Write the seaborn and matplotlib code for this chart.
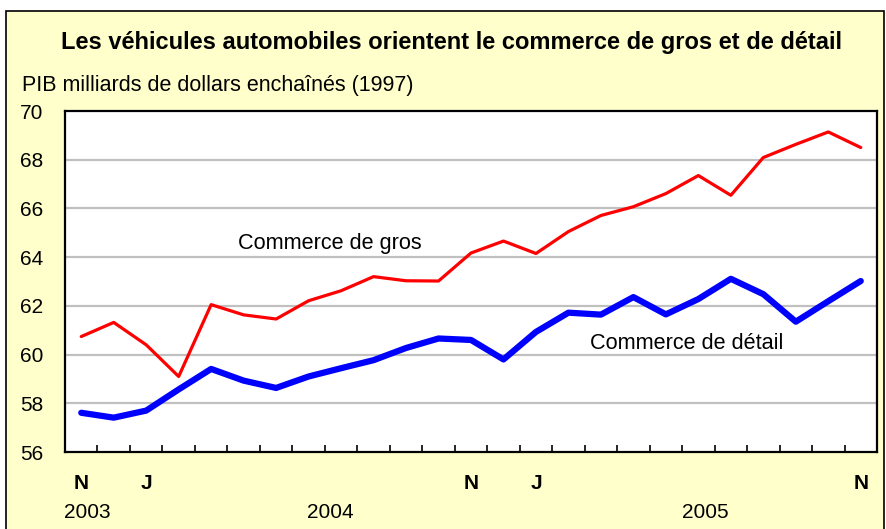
import matplotlib
matplotlib.use("Agg")
import matplotlib.pyplot as plt
import matplotlib.patches as mpatches
import matplotlib.transforms as mtransforms
import seaborn as sns
import pandas as pd
import numpy as np

months = ["N", "D", "J", "F", "M", "A", "M", "J", "J", "A", "S", "O",
          "N", "D", "J", "F", "M", "A", "M", "J", "J", "A", "S", "O", "N"]
gros = [60.74, 61.32, 60.40, 59.10, 62.05, 61.63, 61.46, 62.21, 62.62, 63.20, 63.03, 63.02,
        64.17, 64.66, 64.15, 65.05, 65.71, 66.07, 66.61, 67.35, 66.54, 68.09, 68.63, 69.14, 68.50]
detail = [57.61, 57.41, 57.70, 58.57, 59.41, 58.93, 58.63, 59.10, 59.44, 59.77, 60.27, 60.66,
          60.60, 59.80, 60.93, 61.72, 61.64, 62.36, 61.65, 62.28, 63.11, 62.48, 61.35, 62.19, 63.02]
shown_ticks = {0: "N", 2: "J", 12: "N", 14: "J", 24: "N"}
years = [("2003", 0.2), ("2004", 7.66), ("2005", 19.2)]
yticks = [56, 58, 60, 62, 64, 66, 68, 70]

sns.set_style("white")
plt.rcParams['font.family'] = ['Liberation Sans', 'DejaVu Sans']
plt.rcParams['text.color'] = 'black'
plt.rcParams['ytick.color'] = 'black'
plt.rcParams['xtick.color'] = 'black'

idx = np.arange(len(months))
df = pd.DataFrame({"idx": np.concatenate([idx, idx]),
                   "val": gros + detail,
                   "serie": ["Commerce de gros"] * len(idx) + ["Commerce de détail"] * len(idx)})

fig = plt.figure(figsize=(8.86, 5.29), dpi=100)
fig.patch.set_facecolor("white")
bg = mpatches.Rectangle((6/886, -0.01), (884-6)/886, 0.979 + 0.01, transform=fig.transFigure,
                        facecolor="#FFFFCC", edgecolor="black", linewidth=1.2, zorder=-10)
fig.patches.append(bg)

ax = fig.add_axes([65/886, 1-452/529, (877-65)/886, (452-111)/529])
ax.set_zorder(1)
ax.set_facecolor("white")

for y in yticks[1:-1]:
    ax.axhline(y, color="#C0C0C0", lw=1.6, zorder=1)

sns.lineplot(data=df[df.serie == "Commerce de gros"], x="idx", y="val", color="#FF0000",
             lw=2.3, ax=ax, zorder=3, legend=False)
sns.lineplot(data=df[df.serie == "Commerce de détail"], x="idx", y="val", color="#0000FF",
             lw=4.5, ax=ax, zorder=4, legend=False)

ax.set_xlim(-0.5, len(months) - 0.5)
ax.set_ylim(56, 70)
ax.set_yticks(yticks)
ax.set_yticklabels([str(v) for v in yticks], fontsize=15)
ax.tick_params(axis="y", length=0, pad=15.5)
ax.set_xticks(np.arange(0.5, len(months) - 1, 1.0))
ax.set_xticklabels([])
ax.tick_params(axis="x", direction="in", length=5, width=1.2, color="black", bottom=True)
ax.set_xlabel("")
ax.set_ylabel("")
for s in ax.spines.values():
    s.set_color("black")
    s.set_linewidth(1.6)
    s.set_visible(True)

trans = mtransforms.blended_transform_factory(ax.transData, ax.transAxes)
for i, lab in shown_ticks.items():
    ax.text(i, -0.091, lab, transform=trans, ha="center", va="center", fontsize=15,
            fontweight="bold")
for lab, x in years:
    ax.text(x, -0.177, lab, transform=trans, ha="center", va="center", fontsize=15)

ax.text(4.83, 64.55, "Commerce de gros", ha="left", va="center", fontsize=15.6)
ax.text(15.66, 60.45, "Commerce de détail", ha="left", va="center", fontsize=15.6)

fig.text(452/886, 1-43/529, "Les véhicules automobiles orientent le commerce de gros et de détail",
         ha="center", va="center", fontsize=17, fontweight="bold")
fig.text(22/886, 1-85/529, "PIB milliards de dollars enchaînés (1997)",
         ha="left", va="center", fontsize=15.5)

fig.savefig("out.png", dpi=100, facecolor=fig.get_facecolor())
